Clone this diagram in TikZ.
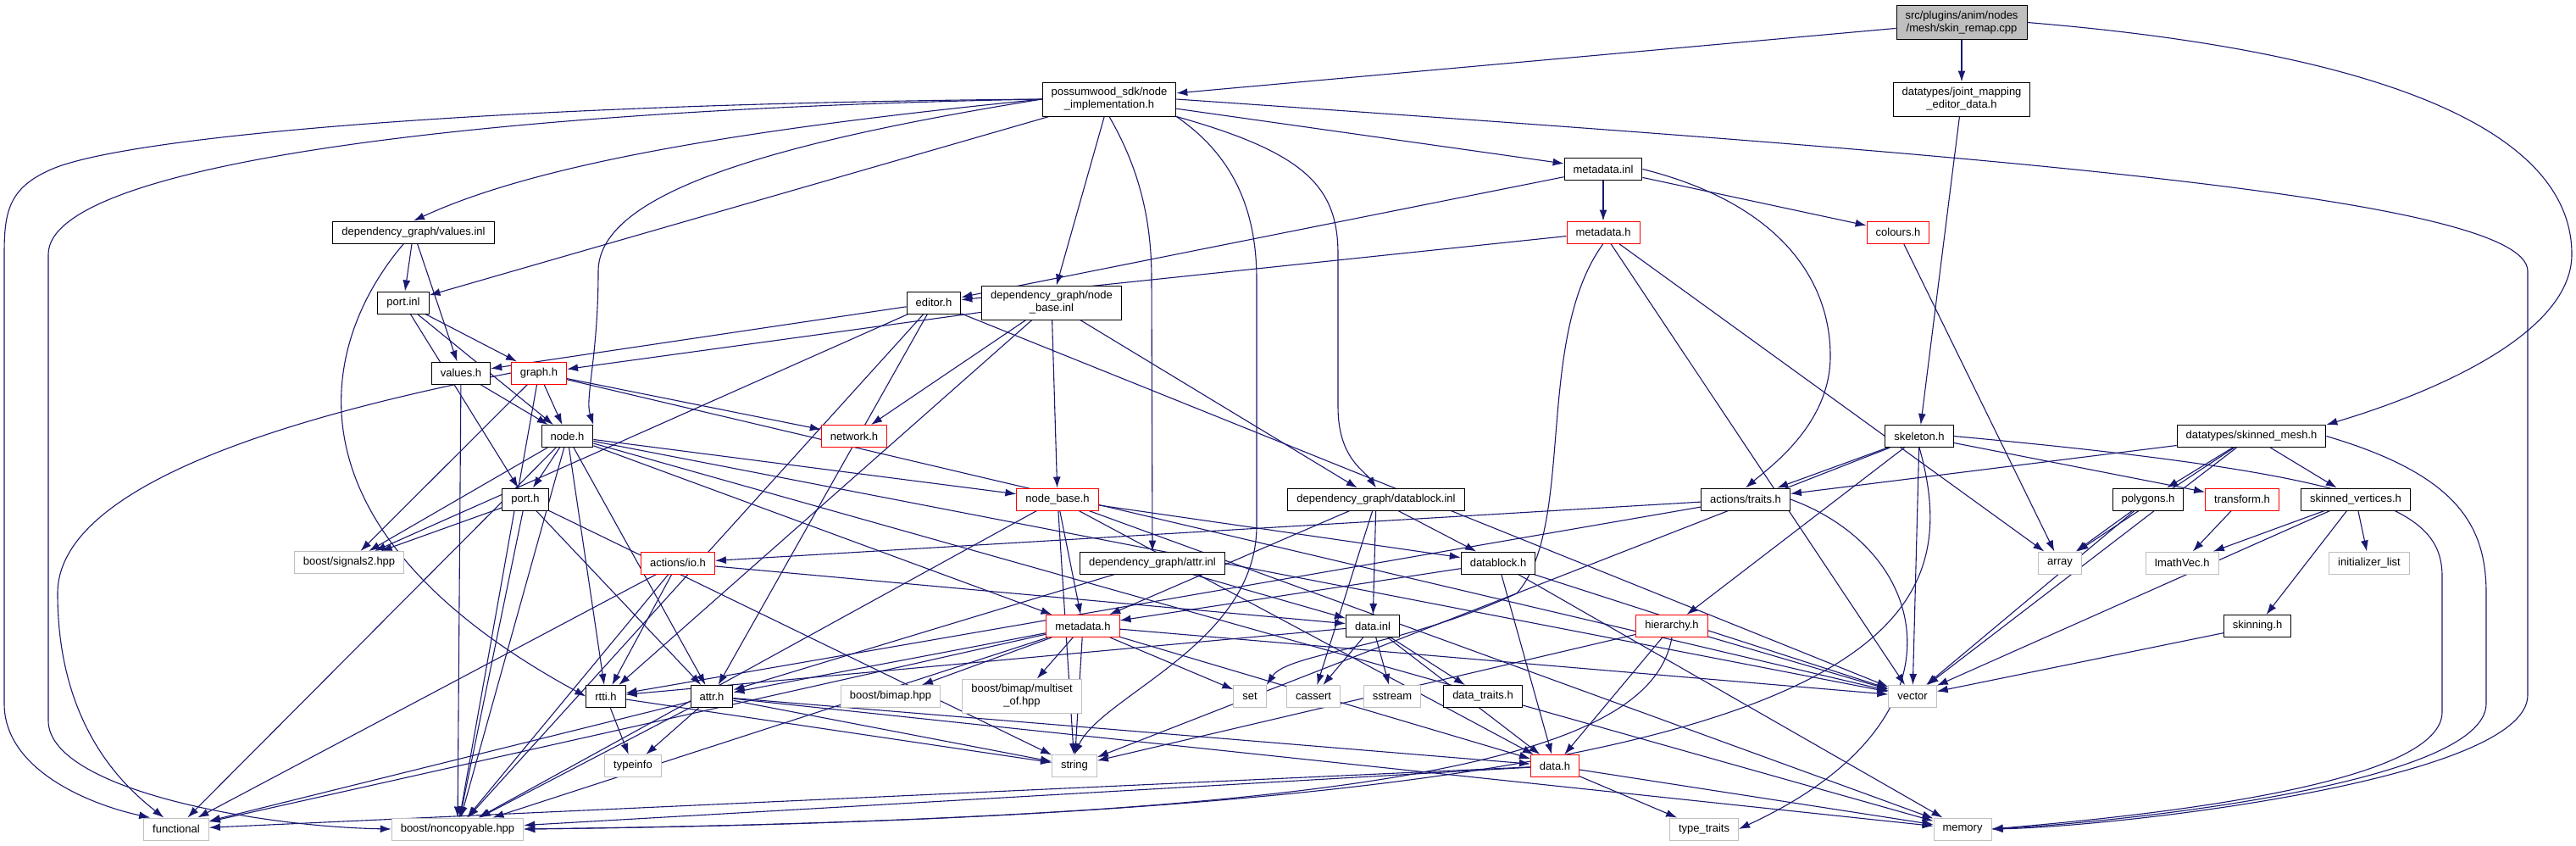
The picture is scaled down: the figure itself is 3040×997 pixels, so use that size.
\documentclass[tikz,border=0pt]{standalone}
\usepackage{fontspec}
\setmainfont{Liberation Sans}
\usetikzlibrary{arrows.meta, backgrounds}
\definecolor{dxEdge}{HTML}{191970}
\definecolor{dxRed}{HTML}{FF0000}
\definecolor{dxGrey}{HTML}{BFBFBF}

\begin{document}
\begin{tikzpicture}[x=1pt, y=-1pt, font=\fontsize{13}{15}\selectfont,
    file/.style={draw=black, line width=1pt, fill=white, inner xsep=10.5pt, inner ysep=0pt, minimum height=26pt, align=center},
    trunc/.style={file, draw=dxRed},
    sys/.style={file, draw=dxGrey},
    root/.style={file, fill=dxGrey},
    tall/.style={minimum height=40pt},
    inc/.style={-{Latex[length=13pt,width=9pt]}, dxEdge, line width=1.1pt}]
  \useasboundingbox (0,0) rectangle (3040,997);
  % files of the project
  \node[root, tall] (skin) at (2315,26.5) {src/plugins/anim/nodes\\/mesh/skin\_remap.cpp};
  \node[file, tall] (impl) at (1309,117) {possumwood\_sdk/node\\\_implementation.h};
  \node[file, tall] (jmed) at (2315,117) {datatypes/joint\_mapping\\\_editor\_data.h};
  \node[file] (valinl) at (488,274) {dependency\_graph/values.inl};
  \node[file] (mdinl) at (1892,199.5) {metadata.inl};
  \node[trunc] (mdup) at (1892,274) {metadata.h};
  \node[trunc] (colours) at (2240,274) {colours.h};
  \node[file] (portinl) at (476,357) {port.inl};
  \node[file] (editor) at (1102,357) {editor.h};
  \node[file, tall] (nbinl) at (1241,357) {dependency\_graph/node\\\_base.inl};
  \node[file] (valh) at (544,440) {values.h};
  \node[trunc] (graph) at (636,440) {graph.h};
  \node[file] (nodeh) at (669.5,514.5) {node.h};
  \node[trunc] (network) at (1008,514.5) {network.h};
  \node[file] (skel) at (2265,514.5) {skeleton.h};
  \node[file] (smesh) at (2657,514.5) {datatypes/skinned\_mesh.h};
  \node[file] (porth) at (620,589) {port.h};
  \node[trunc] (nbh) at (1248,589) {node\_base.h};
  \node[file] (dbinl) at (1624,589) {dependency\_graph/datablock.inl};
  \node[file] (traits) at (2060,589) {actions/traits.h};
  \node[file] (poly) at (2535,589) {polygons.h};
  \node[trunc] (transf) at (2646,589) {transform.h};
  \node[file] (skv) at (2780,589) {skinned\_vertices.h};
  \node[trunc] (io) at (800,664) {actions/io.h};
  \node[file] (attrinl) at (1360,664) {dependency\_graph/attr.inl};
  \node[file] (dbh) at (1768,664) {datablock.h};
  \node[trunc] (mdlow) at (1278,738.5) {metadata.h};
  \node[file] (datainl) at (1620,738.5) {data.inl};
  \node[trunc] (hier) at (1973,738.5) {hierarchy.h};
  \node[file] (skinning) at (2664,738.5) {skinning.h};
  \node[file] (rtti) at (715,821.5) {rtti.h};
  \node[file] (attrh) at (840,821.5) {attr.h};
  \node[file] (dtraits) at (1750,821.5) {data\_traits.h};
  \node[trunc] (datah) at (1835,903.5) {data.h};
  % system and library headers
  \node[sys] (sig) at (412,663.5) {boost/signals2.hpp};
  \node[sys] (array) at (2431,664) {array};
  \node[sys] (imath) at (2575,664) {ImathVec.h};
  \node[sys] (initl) at (2796,664) {initializer\_list};
  \node[sys] (bimap) at (1051,821.5) {boost/bimap.hpp};
  \node[sys, tall] (multiset) at (1206,821) {boost/bimap/multiset\\\_of.hpp};
  \node[sys] (set) at (1475,821.5) {set};
  \node[sys] (cassert) at (1550,821.5) {cassert};
  \node[sys] (sstream) at (1643,821.5) {sstream};
  \node[sys] (vector) at (2257,821.5) {vector};
  \node[sys] (typeinfo) at (747,903.5) {typeinfo};
  \node[sys] (string) at (1268,903.5) {string};
  \node[sys] (functional) at (208,978) {functional};
  \node[sys] (noncopy) at (540,978) {boost/noncopyable.hpp};
  \node[sys] (ttraits) at (2011,978) {type\_traits};
  \node[sys] (memory) at (2316,978) {memory};

  \begin{scope}[on background layer]
    % long routed includes
    \draw[inc] (skin.east) .. controls (2800,60) and (3035,150) .. (3035,300) .. controls (3035,400) and (2850,470) .. (smesh.north east);
    \draw[inc] (impl.west) .. controls (600,122) and (150,160) .. (60,200) .. controls (10,222) and (5,250) .. (5,300) -- (5,830) .. controls (5,910) and (110,950) .. ([xshift=8pt]functional.north west);
    \draw[inc] (impl.west) .. controls (600,128) and (57,190) .. (57,300) -- (57,850) .. controls (57,930) and (300,975) .. (noncopy.west);
    \draw[inc] (graph.west) .. controls (400,480) and (68,560) .. (68,700) .. controls (68,860) and (150,930) .. ([xshift=24pt]functional.north west);
    \draw[inc] (impl.east) .. controls (2300,180) and (2983,230) .. (2983,320) -- (2983,820) .. controls (2983,920) and (2500,975) .. (memory.east);
    \draw[inc] (skel.east) .. controls (2800,560) and (2882,600) .. (2882,680) -- (2882,840) .. controls (2882,930) and (2500,965) .. (memory.east);
    \draw[inc] (smesh.east) .. controls (2900,560) and (2934,620) .. (2934,700) -- (2934,830) .. controls (2934,925) and (2500,970) .. (memory.east);
    \draw[inc] (impl.west) .. controls (900,150) and (640,190) .. (valinl.north);
    \draw[inc] (impl.west) .. controls (900,170) and (706,230) .. (706,320) .. controls (706,420) and (690,470) .. (nodeh.north east);
    \draw[inc] (impl.south east) .. controls (1450,180) and (1483,240) .. (1483,330) -- (1483,620) .. controls (1483,760) and (1300,820) .. (string.north);
    \draw[inc] (impl.south east) .. controls (1540,180) and (1579,220) .. (1579,300) -- (1579,480) .. controls (1579,540) and (1610,555) .. (dbinl.north);
    \draw[inc] (impl.south) .. controls (1345,200) and (1359,260) .. (1359,330) -- (attrinl.north);
    \draw[inc] (mdinl.east) .. controls (2100,240) and (2160,330) .. (2160,420) .. controls (2160,500) and (2090,550) .. (traits.north);
    \draw[inc] (mdup.south) .. controls (1810,400) and (1860,620) .. (1790,700) .. controls (1650,765) and (1520,770) .. (set.north east);
    \draw[inc] (valinl) .. controls (380,400) and (320,620) .. (rtti.west);
    \draw[inc] (hier.south) .. controls (1950,880) and (1700,965) .. (noncopy.east);
    \draw[inc] (skel.south) .. controls (2330,760) and (2200,960) .. (noncopy.east);
    \draw[inc] (traits.east) .. controls (2280,650) and (2330,850) .. (ttraits.east);
    % plain includes, one source at a time
    \foreach \t in {impl, jmed} \draw[inc] (skin) -- (\t);
    \draw[inc] (jmed) -- (skel);
    \foreach \t in {portinl, nbinl, mdinl} \draw[inc] (impl) -- (\t);
    \foreach \t in {portinl, valh} \draw[inc] (valinl) -- (\t);
    \foreach \t in {editor, mdup, colours} \draw[inc] (mdinl) -- (\t);
    \foreach \t in {editor, vector, array} \draw[inc] (mdup) -- (\t);
    \draw[inc] (colours) -- (array);
    \foreach \t in {graph, nodeh, porth} \draw[inc] (portinl) -- (\t);
    \foreach \t in {valh, sig, noncopy, attrh, vector} \draw[inc] (editor) -- (\t);
    \foreach \t in {graph, network, rtti, nbh, dbinl} \draw[inc] (nbinl) -- (\t);
    \foreach \t in {nodeh, noncopy} \draw[inc] (valh) -- (\t);
    \foreach \t in {nodeh, network, sig, noncopy, vector} \draw[inc] (graph) -- (\t);
    \foreach \t in {porth, sig, functional, noncopy, attrh, rtti, nbh, mdlow, vector, memory} \draw[inc] (nodeh) -- (\t);
    \foreach \t in {traits, hier, transf, vector, string} \draw[inc] (skel) -- (\t);
    \foreach \t in {traits, poly, skv, array, vector} \draw[inc] (smesh) -- (\t);
    \foreach \t in {sig, noncopy, attrh, string} \draw[inc] (porth) -- (\t);
    \foreach \t in {noncopy, string, mdlow, dbh, datah, memory} \draw[inc] (nbh) -- (\t);
    \foreach \t in {mdlow, datainl, dbh, cassert} \draw[inc] (dbinl) -- (\t);
    \foreach \t in {io, rtti} \draw[inc] (traits) -- (\t);
    \foreach \t in {array, vector} \draw[inc] (poly) -- (\t);
    \draw[inc] (transf) -- (imath);
    \foreach \t in {imath, initl, skinning, vector} \draw[inc] (skv) -- (\t);
    \foreach \t in {rtti, functional, noncopy, datainl} \draw[inc] (io) -- (\t);
    \foreach \t in {datainl, attrh} \draw[inc] (attrinl) -- (\t);
    \foreach \t in {mdlow, vector, memory, datah} \draw[inc] (dbh) -- (\t);
    \foreach \t in {attrh, bimap, multiset, set, string, datah, vector, functional, noncopy} \draw[inc] (mdlow) -- (\t);
    \foreach \t in {rtti, cassert, sstream, dtraits, datah} \draw[inc] (datainl) -- (\t);
    \foreach \t in {vector, string, datah} \draw[inc] (hier) -- (\t);
    \draw[inc] (skinning) -- (vector);
    \foreach \t in {typeinfo, string} \draw[inc] (rtti) -- (\t);
    \foreach \t in {typeinfo, string, datah, functional, noncopy, memory} \draw[inc] (attrh) -- (\t);
    \foreach \t in {functional, noncopy, ttraits, memory} \draw[inc] (datah) -- (\t);
  \end{scope}
\end{tikzpicture}
\end{document}
